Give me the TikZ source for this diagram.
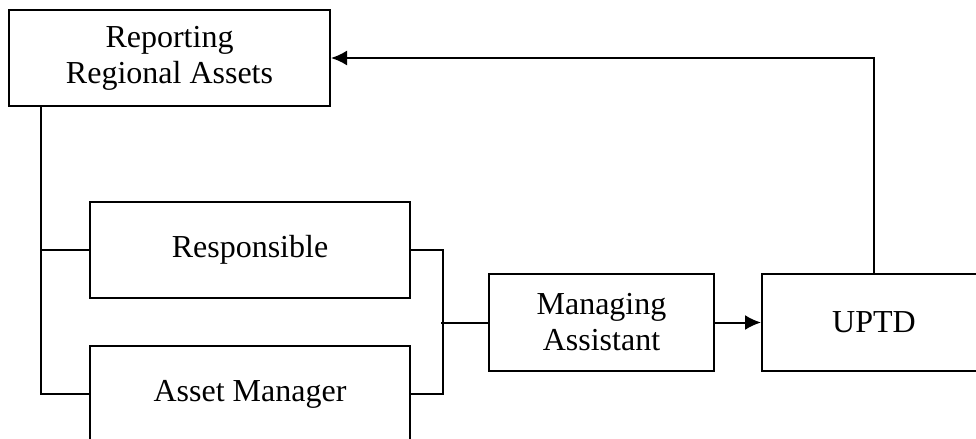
\documentclass[tikz,border=0pt]{standalone}
\usepackage{fontspec}
\setmainfont{Liberation Serif}
\usepackage{tikz}
\usetikzlibrary{positioning, arrows.meta, calc}
\tikzstyle{line} = [line width=1pt]
\tikzstyle{arrow} = [line width=1pt,-{Latex[length=8pt,width=7.5pt]}]
\tikzstyle{unit} = [rectangle, minimum width=160pt, minimum height=48pt, text centered, align=center, draw=black, line width=1pt, font=\fontsize{16}{18}\selectfont]

\begin{document}
\begin{tikzpicture}[node distance=72pt]
        \useasboundingbox (0,0) rectangle (488pt,-219.5pt);
        \node (report) [unit, minimum width=160.5pt] at (84.75pt,-29pt) {Reporting\\Regional Assets};
        \node (resp) [unit, below of=report, xshift=40.25pt, yshift=-24pt] {Responsible};
        \node (asset) [unit, below of=resp] {Asset Manager};
        \node (manag) [unit, right of=resp, xshift=103.75pt, yshift=-36.25pt, minimum width=112.5pt, minimum height=48.5pt] {Managing\\Assistant};
        \node (uptd) [unit, right of=manag, xshift=64.25pt, minimum width=112pt, minimum height=48.5pt] {UPTD};

        \draw [line] ([xshift=16.5pt]report.south west) |- (asset.west);
        \draw [line] (resp.west) -- ++(-24pt,0);
        \draw [line] (resp.east) -- ++(16pt,0) |- (asset.east);
        \draw [line] (manag.west) -- ++(-23.5pt,0);
        \draw [arrow] (manag) -- (uptd);
        \draw [arrow] (uptd.north) |- (report.east);
\end{tikzpicture}
\end{document}
